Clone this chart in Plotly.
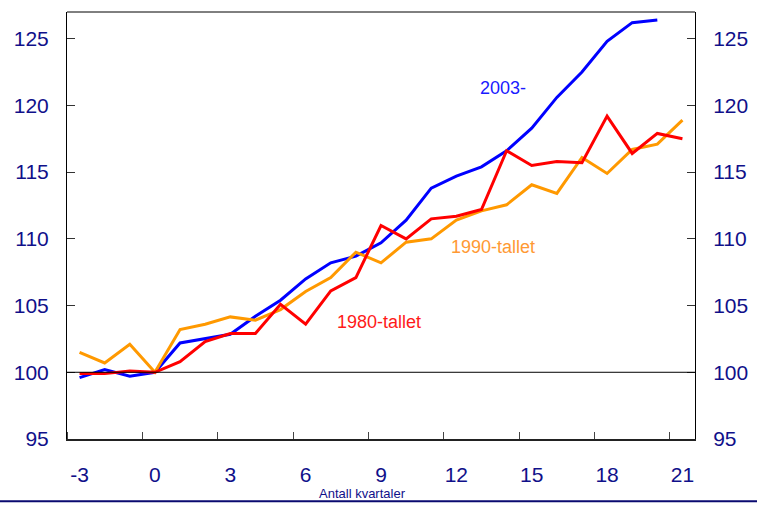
import plotly.graph_objects as go

quarters = list(range(-3, 22))
s2003 = [99.6, 100.2, 99.7, 100.0, 102.2, 102.5, 102.85, 104.2, 105.4, 107.0, 108.2, 108.7,
         109.7, 111.4, 113.8, 114.7, 115.4, 116.6, 118.3, 120.6, 122.5, 124.8, 126.2, 126.4, None]
s1980 = [99.9, 99.9, 100.1, 100.0, 100.8, 102.3, 102.9, 102.9, 105.1, 103.6, 106.1, 107.1,
         111.0, 110.0, 111.5, 111.7, 112.2, 116.6, 115.5, 115.8, 115.7, 119.2, 116.4, 117.9, 117.5]
s1990 = [101.5, 100.7, 102.1, 100.0, 103.2, 103.6, 104.15, 103.9, 104.7, 106.05, 107.1, 109.0,
         108.2, 109.75, 110.0, 111.4, 112.1, 112.55, 114.05, 113.4, 116.1, 114.9, 116.7, 117.1, 118.9]
x_ticks = [-3, 0, 3, 6, 9, 12, 15, 18, 21]
x_ticktext = ["-3", "0", "3", "6", "9", "12", "15", "18", "21"]
y_ticks = [95, 100, 105, 110, 115, 120, 125]
base_level = 100
x_title = "Antall kvartaler"

NAVY = "#10108a"
FONT = "Liberation Sans, Arial, sans-serif"
TICKFONT = dict(size=21, color=NAVY, family=FONT)

fig = go.Figure()
fig.add_trace(go.Scatter(x=quarters, y=s2003, mode="lines", line=dict(color="#0000ff", width=3),
                         name="2003-", connectgaps=False))
fig.add_trace(go.Scatter(x=quarters, y=s1990, mode="lines", line=dict(color="#ff9900", width=3),
                         name="1990-tallet"))
fig.add_trace(go.Scatter(x=quarters, y=s1980, mode="lines", line=dict(color="#ff0000", width=3),
                         name="1980-tallet"))
# invisible trace to activate right axis
fig.add_trace(go.Scatter(x=quarters, y=s1980, mode="lines", line=dict(width=0), yaxis="y2",
                         hoverinfo="skip", showlegend=False, opacity=0))

fig.add_hline(y=base_level, line=dict(color="black", width=1))

fig.add_annotation(x=13.84, y=121.3, text="2003-", showarrow=False,
                   font=dict(color="#1a1aff", size=18, family=FONT))
fig.add_annotation(x=13.45, y=109.4, text="1990-tallet", showarrow=False,
                   font=dict(color="#ff9933", size=18, family=FONT))
fig.add_annotation(x=8.93, y=103.8, text="1980-tallet", showarrow=False,
                   font=dict(color="#ff1a1a", size=18, family=FONT))
fig.add_annotation(x=0.471, y=-0.128, xref="paper", yref="paper", text=x_title,
                   showarrow=False, yanchor="middle", xanchor="center",
                   font=dict(color=NAVY, size=13, family=FONT))

fig.add_shape(type="line", xref="paper", yref="paper", x0=-0.11, x1=1.11, y0=-0.146, y1=-0.146,
              line=dict(color="#0a0a70", width=2))

fig.update_layout(
    width=757, height=505,
    margin=dict(l=67, r=62, t=12, b=66, autoexpand=False),
    paper_bgcolor="white", plot_bgcolor="white",
    showlegend=False,
    font=dict(family=FONT, color=NAVY, size=20),
    xaxis=dict(range=[-3.5, 21.5], tickvals=x_ticks, ticktext=x_ticktext, ticks="",
               showgrid=False, zeroline=False, automargin=False,
               showline=True, linecolor="#222", linewidth=2, mirror=False,
               ticklabelstandoff=16, tickfont=TICKFONT,
               minor=dict(tick0=-0.5, dtick=3, ticks="inside", ticklen=7, tickcolor="#444",
                          tickwidth=1, showgrid=False)),
    yaxis=dict(range=[95, 127], tickvals=y_ticks, ticks="inside", ticklen=8, tickcolor="#333",
               showgrid=False, zeroline=False, showline=True, linecolor="black", linewidth=1,
               automargin=False, ticklabelstandoff=13, tickfont=TICKFONT),
    yaxis2=dict(range=[95, 127], tickvals=y_ticks, ticks="inside", ticklen=8, tickcolor="#333",
                overlaying="y", side="right", showgrid=False, zeroline=False, showline=True,
                linecolor="black", linewidth=1, automargin=False, ticklabelstandoff=13,
                tickfont=TICKFONT),
)
fig.add_shape(type="line", xref="paper", yref="paper", x0=0, x1=1, y0=1, y1=1,
              line=dict(color="black", width=1))

fig.write_html("out.html", config={"displayModeBar": False},
               post_script="document.body.style.margin='0px';")
